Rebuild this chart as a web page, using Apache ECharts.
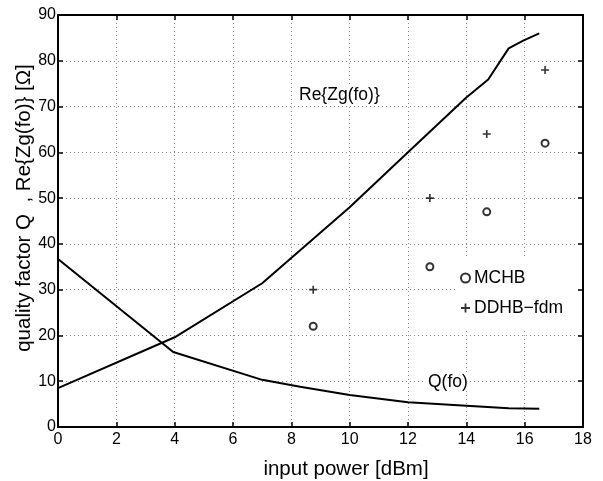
<!DOCTYPE html>
<html>
<head>
<meta charset="utf-8">
<script src="https://cdn.jsdelivr.net/npm/echarts@6/dist/echarts.min.js"></script>
<style>html,body{margin:0;padding:0;background:#fff}#c{width:603px;height:481px}</style>
</head>
<body>
<div id="c"></div>
<script>
// input power [dBm]
const reX = [0, 4, 7, 10, 12, 14, 14.75, 15.45, 15.95, 16.5];
const reY = [8.5, 19.6, 31.4, 48.0, 60.0, 72.0, 75.9, 82.7, 84.4, 86.0];
const qX = [0, 3.95, 7, 8.3, 10, 12, 14, 15.45, 16.5];
const qY = [36.7, 16.4, 10.3, 8.8, 7.0, 5.4, 4.65, 4.1, 4.0];
const mchbX = [8.75, 12.75, 14.7, 16.7];
const mchbY = [22, 35, 47, 62];
const ddhbX = [8.75, 12.75, 14.7, 16.7];
const ddhbY = [30, 50, 64, 78];
const xTicks = [0, 2, 4, 6, 8, 10, 12, 14, 16, 18];
const yTicks = [0, 10, 20, 30, 40, 50, 60, 70, 80, 90];

const FONT = '"Liberation Sans", Arial, Helvetica, sans-serif';
const zip = (a, b) => a.map((v, i) => [v, b[i]]);

const chart = echarts.init(document.getElementById('c'), null, {renderer: 'canvas'});
const gridLeft = 58, gridTop = 15, gridRight = 20, gridBottom = 54;

const baseAxis = (pos, show) => ({
  position: pos,
  min: 0,
  axisLine: {show: true, onZero: false, lineStyle: {color: '#000', width: 2}},
  axisTick: {show: true, inside: true, length: 5, lineStyle: {color: '#000', width: 1.5}},
  axisLabel: {show: show, color: '#000', fontSize: 16, fontFamily: FONT, margin: 3},
  splitLine: {show: show, lineStyle: {color: '#8a8a8a', width: 1, type: [1, 3]}}
});

const plus = 'path://M-1,-5 L1,-5 L1,-1 L5,-1 L5,1 L1,1 L1,5 L-1,5 L-1,1 L-5,1 L-5,-1 L-1,-1 Z';

chart.setOption({
  animation: false,
  backgroundColor: '#fff',
  grid: {left: gridLeft, top: gridTop, right: gridRight, bottom: gridBottom, containLabel: false},
  xAxis: [
    Object.assign(baseAxis('bottom', true), {type: 'value', max: 18, interval: 2,
      axisLabel: {show: true, color: '#000', fontSize: 16, fontFamily: FONT, margin: 5,
        formatter: v => xTicks.includes(v) ? String(v) : ''}}),
    Object.assign(baseAxis('top', false), {type: 'value', max: 18, interval: 2})
  ],
  yAxis: [
    Object.assign(baseAxis('left', true), {type: 'value', max: 90, interval: 10,
      axisLabel: {show: true, color: '#000', fontSize: 16, fontFamily: FONT, margin: 2,
        formatter: v => yTicks.includes(v) ? String(v) : ''}}),
    Object.assign(baseAxis('right', false), {type: 'value', max: 90, interval: 10})
  ],
  legend: {
    orient: 'vertical',
    left: 455, top: 259,
    backgroundColor: '#fff',
    padding: [10, 14, 14, 5],
    itemGap: 12,
    itemWidth: 9, itemHeight: 9,
    textStyle: {color: '#000', fontSize: 17.5, fontFamily: FONT, padding: [0, 0, 0, -1]},
    data: [{name: 'MCHB'}, {name: 'DDHB\u2212fdm'}]
  },
  series: [
    {name: 'Re{Zg(fo)}', type: 'line', data: zip(reX, reY), symbol: 'none',
     lineStyle: {color: '#000', width: 2}, z: 3},
    {name: 'Q(fo)', type: 'line', data: zip(qX, qY), symbol: 'none',
     lineStyle: {color: '#000', width: 2}, z: 3},
    {name: 'MCHB', type: 'scatter', data: zip(mchbX, mchbY), symbol: 'emptyCircle', symbolSize: 7,
     itemStyle: {color: '#000', borderColor: '#000', borderWidth: 2}},
    {name: 'DDHB\u2212fdm', type: 'scatter', data: zip(ddhbX, ddhbY), symbol: plus, symbolSize: 8,
     itemStyle: {color: '#000'}}
  ],
  graphic: [
    {type: 'text', left: 297, top: 86, z: 10,
     style: {text: 'Re{Zg(fo)}', fontSize: 17.5, fontFamily: FONT, fill: '#000', backgroundColor: '#fff', padding: [0, 2]}},
    {type: 'text', left: 426, top: 373, z: 10,
     style: {text: 'Q(fo)', fontSize: 17.5, fontFamily: FONT, fill: '#000', backgroundColor: '#fff', padding: [0, 2]}},
    {type: 'text', x: 346, y: 469, z: 10,
     style: {text: 'input power [dBm]', fontSize: 20.5, fontFamily: FONT, fill: '#000', align: 'center', verticalAlign: 'middle'}},
    {type: 'text', x: 24, y: 208, rotation: Math.PI / 2, z: 10,
     style: {text: 'quality factor Q  , Re{Zg(fo)} [\u03A9]', fontSize: 20.5, fontFamily: FONT, fill: '#000', align: 'center', verticalAlign: 'middle'}}
  ]
});
</script>
</body>
</html>
